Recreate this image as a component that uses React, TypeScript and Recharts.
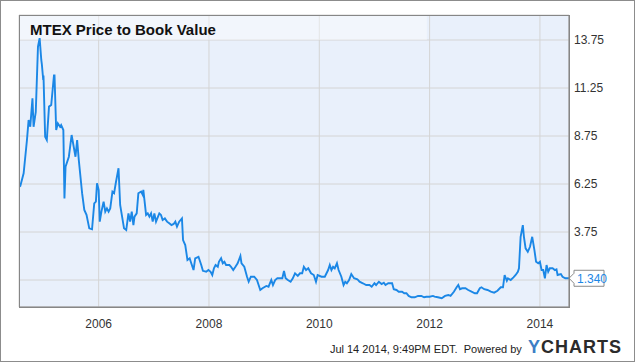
import { LineChart, Line, XAxis, YAxis, CartesianGrid, ReferenceArea } from "recharts";

// MTEX price-to-book (decimal years)
const dates2004to2007 = [
  2004.56, 2004.58, 2004.64, 2004.67, 2004.7, 2004.73, 2004.76, 2004.8, 2004.82, 2004.86,
  2004.9, 2004.93, 2004.96, 2004.97, 2004.99, 2005.0, 2005.03, 2005.06, 2005.1, 2005.14,
  2005.19, 2005.2, 2005.23, 2005.26, 2005.3, 2005.32, 2005.36, 2005.38, 2005.4, 2005.46,
  2005.51, 2005.58, 2005.61, 2005.64, 2005.7, 2005.74, 2005.78, 2005.83, 2005.88, 2005.92,
  2005.95, 2005.97, 2006.0, 2006.02, 2006.05, 2006.09, 2006.12, 2006.15, 2006.18, 2006.21,
  2006.25, 2006.28, 2006.31, 2006.36, 2006.39, 2006.41, 2006.46, 2006.5, 2006.54, 2006.57,
  2006.6, 2006.63, 2006.65, 2006.69, 2006.72, 2006.77, 2006.8, 2006.81, 2006.83, 2006.86,
  2006.89, 2006.92, 2006.95, 2006.98, 2007.01, 2007.04, 2007.1, 2007.13, 2007.16, 2007.2,
  2007.24, 2007.28, 2007.32, 2007.36, 2007.39, 2007.42, 2007.46, 2007.51, 2007.53, 2007.57,
  2007.61, 2007.65, 2007.67, 2007.72, 2007.75, 2007.81, 2007.86, 2007.89, 2007.95,
];
const values2004to2007 = [
  6.11, 6.15, 6.81, 7.67, 8.54, 9.58, 9.23, 10.71, 9.23, 10.0,
  13.4, 13.85, 12.71, 12.5, 11.84, 11.9, 8.71, 8.54, 10.28, 10.36,
  11.9, 11.9, 9.06, 9.41, 9.23, 9.32, 9.06, 5.5, 7.15, 7.67,
  8.8, 7.67, 8.54, 7.5, 5.77, 4.9, 4.64, 3.94, 3.89, 5.24,
  5.33, 6.29, 5.94, 4.29, 4.81, 5.33, 4.81, 4.98, 4.81, 4.98,
  5.85, 5.77, 6.29, 7.07, 5.16, 4.81, 3.94, 3.85, 4.72, 4.29,
  4.81, 4.11, 4.55, 4.72, 5.77, 5.85, 5.68, 5.94, 5.42, 4.64,
  4.72, 4.55, 4.72, 4.29, 4.72, 4.29, 4.72, 4.64, 4.38, 4.46,
  4.29, 4.2, 4.11, 4.17, 4.29, 4.03, 4.29, 4.46, 3.33, 3.07,
  2.29, 2.38, 2.2, 1.77, 2.38, 2.46, 2.03, 1.73, 1.68,
];

const dates2008to2010 = [
  2007.99, 2008.03, 2008.06, 2008.09, 2008.12, 2008.16, 2008.18, 2008.22, 2008.25, 2008.28,
  2008.31, 2008.37, 2008.4, 2008.44, 2008.48, 2008.52, 2008.57, 2008.59, 2008.64, 2008.69,
  2008.72, 2008.76, 2008.82, 2008.87, 2008.93, 2008.97, 2009.04, 2009.08, 2009.13, 2009.16,
  2009.2, 2009.24, 2009.28, 2009.33, 2009.36, 2009.39, 2009.43, 2009.48, 2009.52, 2009.56,
  2009.61, 2009.65, 2009.69, 2009.72, 2009.76, 2009.8, 2009.85, 2009.9, 2009.94, 2009.97,
  2010.04, 2010.1, 2010.16, 2010.19, 2010.22, 2010.25, 2010.28, 2010.32, 2010.35, 2010.4,
  2010.44, 2010.47, 2010.5, 2010.54, 2010.58, 2010.63, 2010.69, 2010.73, 2010.79, 2010.85,
  2010.91, 2010.95,
];
const values2008to2010 = [
  1.77, 1.68, 1.51, 1.86, 2.03, 1.94, 2.2, 2.38, 2.12, 2.2,
  2.03, 2.03, 1.94, 1.77, 1.94, 2.12, 2.5, 2.12, 1.94, 1.42,
  1.16, 1.42, 1.42, 1.25, 0.73, 0.82, 0.94, 0.9, 1.25, 0.99,
  1.25, 1.34, 1.34, 1.34, 1.72, 1.34, 1.25, 1.16, 1.34, 1.6,
  1.46, 1.6, 1.6, 1.94, 1.77, 1.86, 1.6, 1.51, 1.16, 1.51,
  1.42, 1.42, 1.77, 2.03, 1.77, 1.94, 1.86, 2.12, 1.77, 1.42,
  0.99, 1.16, 1.08, 1.25, 1.56, 1.34, 1.29, 1.16, 1.08, 0.99,
  0.99, 0.9,
];

const dates2011to2014 = [
  2011.0, 2011.03, 2011.08, 2011.13, 2011.17, 2011.2, 2011.25, 2011.32, 2011.35, 2011.4,
  2011.44, 2011.5, 2011.54, 2011.58, 2011.62, 2011.67, 2011.73, 2011.79, 2011.85, 2011.9,
  2011.94, 2012.0, 2012.06, 2012.09, 2012.15, 2012.22, 2012.28, 2012.34, 2012.38, 2012.44,
  2012.49, 2012.52, 2012.55, 2012.59, 2012.65, 2012.7, 2012.76, 2012.82, 2012.86, 2012.91,
  2012.94, 2012.99, 2013.05, 2013.11, 2013.17, 2013.23, 2013.29, 2013.33, 2013.36, 2013.4,
  2013.42, 2013.47, 2013.52, 2013.56, 2013.6, 2013.62, 2013.65, 2013.69, 2013.71, 2013.74,
  2013.78, 2013.82, 2013.86, 2013.9, 2013.93, 2013.97, 2014.0, 2014.03, 2014.06, 2014.09,
  2014.12, 2014.15, 2014.18, 2014.23, 2014.27, 2014.3, 2014.32, 2014.38, 2014.41, 2014.46,
  2014.527,
];
const values2011to2014 = [
  1.08, 0.99, 1.16, 1.04, 1.11, 0.99, 1.08, 1.08, 0.77, 0.73,
  0.64, 0.64, 0.56, 0.56, 0.42, 0.35, 0.35, 0.42, 0.42, 0.35,
  0.38, 0.38, 0.42, 0.38, 0.35, 0.3, 0.42, 0.47, 0.42, 0.64,
  0.87, 0.99, 0.77, 0.82, 0.82, 0.73, 0.64, 0.56, 0.56, 0.82,
  0.87, 0.77, 0.73, 0.64, 0.59, 0.69, 0.87, 0.87, 1.51, 1.21,
  1.34, 1.25, 1.39, 1.51, 1.68, 1.86, 3.5, 4.11, 3.5, 2.9,
  2.72, 2.98, 3.5, 2.81, 2.2, 2.12, 2.2, 1.77, 1.77, 1.34,
  2.03, 1.68, 1.86, 1.86, 1.77, 1.81, 1.51, 1.56, 1.42, 1.34,
  1.34,
];

const yearTicks = [2006, 2008, 2010, 2012, 2014];
const valueTicks = [1.25, 3.75, 6.25, 8.75, 11.25, 13.75];
const lastValueLabel = "1.340";

const xDomain = [2004.556, 2014.527];
const yDomain = [-0.156, 15.052];

const dates = [...dates2004to2007, ...dates2008to2010, ...dates2011to2014];
const values = [...values2004to2007, ...values2008to2010, ...values2011to2014];
const data = dates.map((t, i) => ({ t, pb: values[i] }));

const FONT = "'Liberation Sans', Arial, sans-serif";
const LINE_BLUE = "#1b87e6";

function LastValueTag(props: any) {
  const { x, y, index } = props;
  if (index !== data.length - 1) return null;
  return (
    <g>
      <path
        d={`M${x} ${y} L${x + 5} ${y - 5} L${x + 5} ${y - 8} L${x + 35} ${y - 8} L${x + 35} ${y + 8} L${x + 5} ${y + 8} L${x + 5} ${y + 5} Z`}
        fill="#fff"
        stroke="#8a8a8a"
      />
      <text x={x + 8} y={y + 4.5} fill={LINE_BLUE} fontSize={12} fontFamily={FONT}>
        {lastValueLabel}
      </text>
    </g>
  );
}

export default function App() {
  return (
    <div
      style={{
        position: "absolute",
        left: 0,
        top: 0,
        width: 635,
        height: 362,
        background: "#fff",
        border: "1px solid #8c8c8c",
        boxSizing: "border-box",
        fontFamily: FONT,
      }}
    >
      <div style={{ position: "absolute", left: -1, top: -1 }}>
        <LineChart width={635} height={362} data={data} margin={{ top: 15, right: 0, left: 19, bottom: 0 }}>
          <CartesianGrid stroke="#d4d4d4" fill="#e9f0fb" />
          <ReferenceArea
            x1={xDomain[0]}
            x2={2011.95}
            y1={13.75}
            y2={yDomain[1]}
            fill="#ffffff"
            fillOpacity={0.4}
            stroke="none"
          />
          <XAxis
            dataKey="t"
            type="number"
            domain={xDomain}
            allowDataOverflow
            ticks={yearTicks}
            tickFormatter={(v) => String(v)}
            tickLine={false}
            axisLine={{ stroke: "#868686" }}
            tick={{ fontSize: 12, fill: "#333", fontFamily: FONT }}
            tickMargin={6}
            height={55}
          />
          <YAxis
            orientation="right"
            type="number"
            domain={yDomain}
            allowDataOverflow
            ticks={valueTicks}
            tickFormatter={(v) => (v === 1.25 ? "" : v.toFixed(2))}
            tickLine={false}
            tickSize={0}
            tickMargin={5}
            axisLine={{ stroke: "#868686" }}
            tick={{ fontSize: 12, fill: "#333", fontFamily: FONT, textAnchor: "start" }}
            width={66}
          />
          <Line
            type="linear"
            dataKey="pb"
            stroke={LINE_BLUE}
            strokeWidth={1.9}
            dot={false}
            isAnimationActive={false}
            label={<LastValueTag />}
          />
        </LineChart>
      </div>
      <div
        style={{
          position: "absolute",
          left: 18,
          top: 14,
          width: 551,
          height: 293,
          border: "1px solid #868686",
          boxSizing: "border-box",
          pointerEvents: "none",
        }}
      />
      <div
        style={{
          position: "absolute",
          left: 29,
          top: 20,
          fontSize: 15,
          fontWeight: "bold",
          color: "#111",
        }}
      >
        MTEX Price to Book Value
      </div>
      <div
        style={{
          position: "absolute",
          right: 12,
          top: 336,
          display: "flex",
          alignItems: "baseline",
          whiteSpace: "nowrap",
          color: "#222",
        }}
      >
        <span style={{ fontSize: 11 }}>Jul 14 2014, 9:49PM EDT.&nbsp; Powered by&nbsp;&nbsp;</span>
        <span style={{ fontSize: 18, fontWeight: "bold", letterSpacing: 1 }}>
          <span style={{ color: "#3d7fc6" }}>Y</span>
          <span style={{ color: "#2b2b2b" }}>CHARTS</span>
        </span>
      </div>
    </div>
  );
}
